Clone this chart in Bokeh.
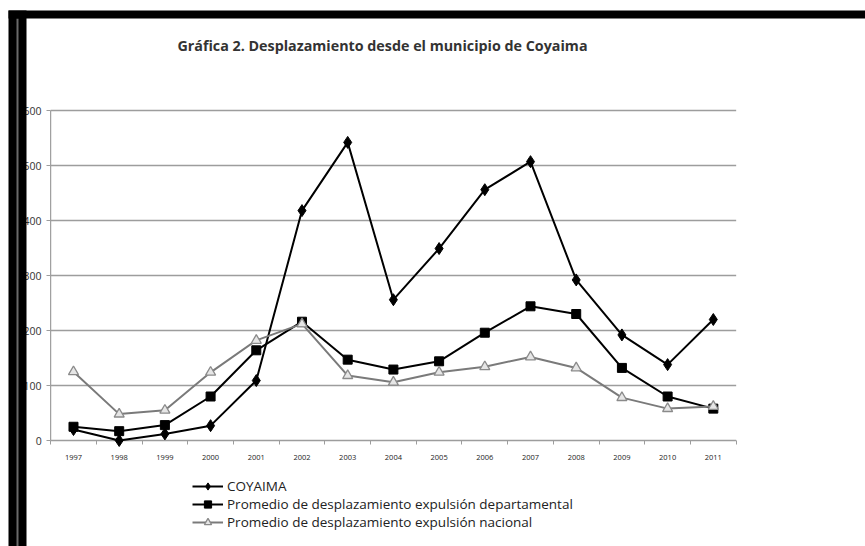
from bokeh.plotting import figure
from bokeh.models import Range1d, FixedTicker, Legend, LegendItem, Label, BoxAnnotation
from bokeh.embed import file_html
from bokeh.resources import INLINE

years = ["1997", "1998", "1999", "2000", "2001", "2002", "2003", "2004",
         "2005", "2006", "2007", "2008", "2009", "2010", "2011"]
coyaima = [20, 0, 12, 27, 109, 418, 542, 256, 349, 456, 507, 292, 192, 138, 220]
departamental = [25, 17, 28, 80, 164, 216, 147, 129, 144, 196, 244, 230, 132, 80, 58]
nacional = [125, 48, 55, 124, 182, 212, 118, 106, 124, 134, 152, 132, 78, 58, 62]
y_ticks = [0, 100, 200, 300, 400, 500, 600]

title_text = "Gráfica 2. Desplazamiento desde el municipio de Coyaima"
names = ["COYAIMA",
         "Promedio de desplazamiento expulsión departamental",
         "Promedio de desplazamiento expulsión nacional"]

FONT = "Open Sans"
GRID = "#9d9d9d"

n = len(years)
xpos = list(range(n))
x_lo, x_hi = -0.5, n - 0.5          # category band edges of the plot area
y_lo, y_hi = y_ticks[0], y_ticks[-1]

W, H = 865, 546
p = figure(width=W, height=H, output_backend="svg", toolbar_location=None,
           x_range=Range1d(-1.597, 17.33), y_range=Range1d(-192.7, 800),
           min_border_left=0, min_border_right=0, min_border_top=0, min_border_bottom=0)
p.background_fill_color = "white"
p.border_fill_color = "white"
p.outline_line_color = None
p.xgrid.grid_line_color = None
p.ygrid.grid_line_color = None

# horizontal gridlines restricted to the plot area
p.segment(x0=[x_lo] * len(y_ticks), x1=[x_hi] * len(y_ticks), y0=y_ticks, y1=y_ticks,
          line_color=GRID, line_width=1.6)
# vertical axis line of the plot area
p.segment(x0=[x_lo], x1=[x_lo], y0=[y_lo], y1=[y_hi], line_color=GRID, line_width=1.2)

p.yaxis.fixed_location = x_lo
p.yaxis.ticker = FixedTicker(ticks=y_ticks)
p.yaxis.axis_line_color = None
p.yaxis.major_tick_line_color = GRID
p.yaxis.major_tick_out = 4
p.yaxis.major_tick_in = 0
p.yaxis.minor_tick_line_color = None
p.yaxis.major_label_standoff = 5
p.yaxis.major_label_text_font = FONT
p.yaxis.major_label_text_font_size = "10.5px"
p.yaxis.major_label_text_color = "#333333"

p.xaxis.fixed_location = y_lo
p.xaxis.ticker = FixedTicker(ticks=xpos, minor_ticks=[i - 0.5 for i in range(n + 1)])
p.xaxis.major_label_overrides = {i: y for i, y in enumerate(years)}
p.xaxis.axis_line_color = None
p.xaxis.major_tick_line_color = None
p.xaxis.minor_tick_line_color = GRID
p.xaxis.minor_tick_in = 0
p.xaxis.minor_tick_out = 4
p.xaxis.major_label_standoff = 8
p.xaxis.major_label_text_font = FONT
p.xaxis.major_label_text_font_size = "7.5px"
p.xaxis.major_label_text_color = "#222222"

l1 = p.line(xpos, coyaima, line_color="black", line_width=2)
m1 = p.scatter(xpos, coyaima, marker="diamond", size=12, fill_color="black", line_color="black")
l2 = p.line(xpos, departamental, line_color="black", line_width=2)
m2 = p.scatter(xpos, departamental, marker="square", size=9, fill_color="black", line_color="black")
l3 = p.line(xpos, nacional, line_color="#7a7a7a", line_width=2)
m3 = p.scatter(xpos, nacional, marker="triangle", size=10, fill_color="#e6e6e6", line_color="#8a8a8a",
               line_width=1.3)

legend = Legend(items=[LegendItem(label=names[0], renderers=[l1, m1]),
                       LegendItem(label=names[1], renderers=[l2, m2]),
                       LegendItem(label=names[2], renderers=[l3, m3])],
                location=(192, 15))
legend.background_fill_alpha = 0
legend.border_line_color = None
legend.label_text_font = FONT
legend.label_text_font_size = "13.5px"
legend.label_text_color = "#222222"
legend.glyph_width = 31
legend.glyph_height = 18
legend.label_height = 18
legend.spacing = 0
legend.padding = 0
legend.margin = 0
legend.label_standoff = 4
p.add_layout(legend)

p.add_layout(Label(x=382, y=501, x_units="screen", y_units="screen", text=title_text,
                   text_align="center", text_baseline="middle", text_font=FONT,
                   text_font_style="bold", text_font_size="14.3px", text_color="#333333"))

# black edges of the scanned page
def band(l, r, b, t, color):
    p.add_layout(BoxAnnotation(left=l, right=r, bottom=b, top=t, left_units="screen",
                               right_units="screen", bottom_units="screen", top_units="screen",
                               fill_color=color, fill_alpha=1, line_color=None))

band(8, 26, 0, 536, "black")
band(16, 18, 0, 528, "#6a6a6a")
band(8, W, 528, 536, "black")

open("out.html", "w").write(file_html(p, INLINE))
